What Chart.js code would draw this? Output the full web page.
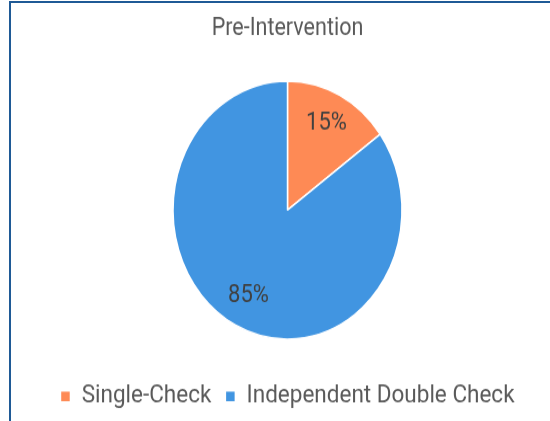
<!DOCTYPE html>
<html>
<head>
<meta charset="utf-8">
<script src="https://cdn.jsdelivr.net/npm/chart.js@4"></script>
<style>
  html, body { margin: 0; padding: 0; background: #fff; }
  #frame {
    position: absolute; left: 9px; top: 1px; width: 541px; height: 420px;
    border-left: 2px solid #1f5a96; border-top: 2px solid #1f5a96;
  }
  #wrap {
    position: absolute; left: 0; top: 0; width: 550px; height: 374px;
    transform: scaleY(1.127); transform-origin: 0 0;
  }
</style>
</head>
<body>
<div id="frame"></div>
<div id="wrap"><canvas id="grafico"></canvas></div>
<script>
const categorie = ['Single-Check', 'Independent Double Check'];
const percentuali = [15, 85];
const colori = ['#fe8a55', '#4195e1'];

// etichette percentuali dentro le fette
const etichettePlugin = {
  id: 'etichette',
  afterDatasetsDraw(chart) {
    const ctx = chart.ctx;
    const meta = chart.getDatasetMeta(0);
    ctx.save();
    ctx.font = '22px Roboto';
    ctx.fillStyle = '#404040';
    ctx.textAlign = 'center';
    ctx.textBaseline = 'middle';
    meta.data.forEach((arc, i) => {
      const mid = (arc.startAngle + arc.endAngle) / 2;
      const r = arc.outerRadius * 0.75;
      ctx.fillText(percentuali[i] + '%', arc.x + Math.cos(mid) * r, arc.y + Math.sin(mid) * r);
    });
    ctx.restore();
  }
};

new Chart(document.getElementById('grafico'), {
  type: 'pie',
  data: {
    labels: categorie,
    datasets: [{
      data: percentuali,
      backgroundColor: colori,
      borderColor: 'white',
      borderWidth: 1.5,
      radius: 114.5
    }]
  },
  options: {
    responsive: true,
    maintainAspectRatio: false,
    animation: false,
    layout: { padding: { left: 25, right: 0, top: 0, bottom: 1 } },
    plugins: {
      title: {
        display: true,
        text: 'Pre-Intervention',
        color: '#595959',
        font: { family: 'Roboto', size: 21.5, weight: 'normal' },
        padding: { top: 13, bottom: 7.5 }
      },
      legend: {
        position: 'bottom',
        labels: {
          color: '#595959',
          font: { family: 'Roboto', size: 22.5 },
          boxWidth: 10,
          boxHeight: 10,
          padding: 14
        }
      },
      tooltip: { enabled: false }
    }
  },
  plugins: [etichettePlugin]
});
</script>
</body>
</html>
